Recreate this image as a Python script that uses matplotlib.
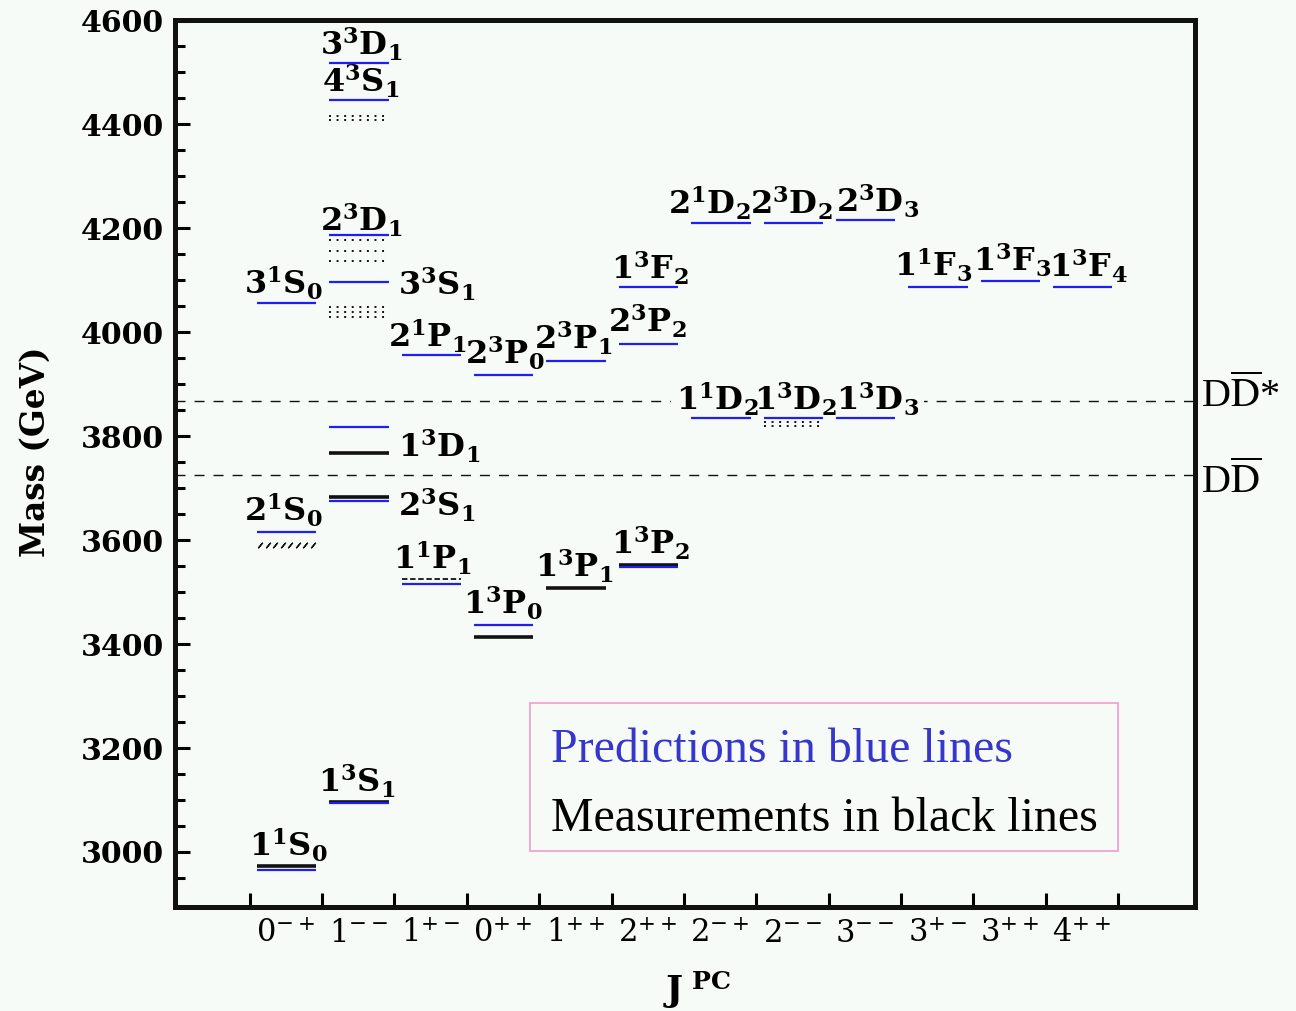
import numpy as np
import matplotlib
matplotlib.use("Agg")
import matplotlib.pyplot as plt
from matplotlib.patches import Rectangle
from matplotlib.ticker import FixedLocator

plt.rcParams["font.family"] = "DejaVu Serif"
plt.rcParams["mathtext.fontset"] = "dejavuserif"

BG = "#f7fbf8"
BLUE = "#1f1ff5"
BLACK = "#111111"

# J^PC columns
jpc_labels = [r"$0^{-+}$", r"$1^{--}$", r"$1^{+-}$", r"$0^{++}$", r"$1^{++}$", r"$2^{++}$",
              r"$2^{-+}$", r"$2^{--}$", r"$3^{--}$", r"$3^{+-}$", r"$3^{++}$", r"$4^{++}$"]

# Potential-model predictions (MeV); column = index into jpc_labels
pred_col = [0, 0, 0,
            1, 1, 1, 1, 1, 1, 1,
            2, 2,
            3, 3,
            4,
            5, 5, 5,
            6, 6,
            7, 7,
            8, 8,
            9, 10, 11]
pred_mass = [2966, 3616, 4057,
             3094, 3676, 3818, 4097, 4187, 4447, 4518,
             3516, 3956,
             3437, 3917,
             3945,
             3549, 3978, 4088,
             3835, 4210,
             3835, 4210,
             3836, 4216,
             4088, 4099, 4088]

# Measured states (MeV)
meas_col = [0, 1, 1, 1, 3, 4, 5]
meas_mass = [2973, 3097, 3683, 3768, 3413, 3508, 3552]

# Broad / less established states, drawn as dotted bands
tent_col = [1, 1, 1, 1, 1, 1, 1, 1, 7, 7]
tent_mass = [4048, 4039, 4029, 4177, 4157, 4138, 4417, 4409, 3828, 3820]

# Disputed eta_c(2S) candidate (hatched) and h_c (dashed)
hatch_col, hatch_mass = [0], [3591]
dash_col, dash_mass = [2], [3525]

# Open-charm thresholds (MeV)
threshold_mass = [3867, 3726]
threshold_names = [r"D$\overline{\mathrm{D}}$*", r"D$\overline{\mathrm{D}}$"]
threshold_label_y = [3857, 3690]

# Spectroscopic labels n^{2S+1}L_J
state_names = ["3^3D_1", "4^3S_1", "2^3D_1", "3^1S_0", "3^3S_1", "2^1P_1", "2^3P_0",
               "2^3P_1", "2^3P_2", "1^3F_2", "2^1D_2", "2^3D_2", "2^3D_3", "1^1F_3",
               "1^3F_3", "1^3F_4", "1^1D_2", "1^3D_2", "1^3D_3", "1^3D_1", "2^3S_1",
               "2^1S_0", "1^1P_1", "1^3P_0", "1^3P_1", "1^3P_2", "1^3S_1", "1^1S_0"]

# label anchor (column coordinate, baseline mass)
label_x = [2.543, 2.543, 2.543, 1.462, 3.590, 3.459, 4.530, 5.469, 6.499, 6.533,
           7.348, 8.481, 9.677, 10.44, 11.535, 12.585, 7.455, 8.537, 9.677, 3.618,
           3.590, 1.462, 3.528, 4.495, 5.483, 6.533, 2.484, 1.531]
label_y = [4531, 4460, 4193, 4072, 4070, 3970, 3937, 3966, 3998, 4101,
           4226, 4226, 4229, 4107, 4117, 4104, 3848, 3848, 3848, 3758,
           3645, 3636, 3542, 3456, 3527, 3572, 3113, 2991]
label_masks_line = [n in ("1^1D_2", "1^3D_2", "1^3D_3") for n in state_names]

LEFT_OFF, RIGHT_OFF = 0.10, 0.92


def span(col):
    return col + 1 + LEFT_OFF, col + 1 + RIGHT_OFF


def term_symbol(name):
    n_mult, rest = name.split("^")
    mult = rest[0]
    L, J = rest[1:].split("_")
    return r"$\mathbf{" + n_mult[0] + "^{" + mult + "}" + L + "_{" + J + "}}$"


fig = plt.figure(figsize=(12.96, 10.11), dpi=100, facecolor=BG)
ax = fig.add_axes([175 / 1296, 1 - 906.5 / 1011, 1020 / 1296, 886 / 1011])
ax.set_facecolor(BG)
ax.set_xlim(-0.03, 14.06)
ax.set_ylim(2895, 4600)

# thresholds
for m, name, ty in zip(threshold_mass, threshold_names, threshold_label_y):
    ax.axhline(m, color=BLACK, lw=1.0, ls=(0, (7.2, 6.5)), zorder=1)
    ax.text(14.145, ty, name, fontsize=29, family="Liberation Serif",
            math_fontfamily="stix", ha="left", va="baseline", clip_on=False)

# measured levels
for c, m in zip(meas_col, meas_mass):
    x0, x1 = span(c)
    ax.plot([x0, x1], [m, m], color=BLACK, lw=2.6, solid_capstyle="butt", zorder=3)

# predicted levels
for c, m in zip(pred_col, pred_mass):
    x0, x1 = span(c)
    ax.plot([x0, x1], [m, m], color=BLUE, lw=1.6, solid_capstyle="butt", zorder=4)

# dotted bands
for c, m in zip(tent_col, tent_mass):
    x0, x1 = span(c)
    ax.plot([x0, x1], [m, m], color=BLACK, lw=1.4, ls=(0, (1, 2.9)), zorder=3)

# hatched level
for c, m in zip(hatch_col, hatch_mass):
    x0, x1 = span(c)
    xs = np.linspace(x0 + 0.05, x1 - 0.05, 8)
    ax.plot(xs, np.full_like(xs, m), ls="none", marker=(2, 2, -40), ms=5,
            mew=0.9, color=BLACK, zorder=3)

# dashed level
for c, m in zip(dash_col, dash_mass):
    x0, x1 = span(c)
    ax.plot([x0, x1], [m, m], color=BLACK, lw=1.3, ls=(0, (3, 1.5)), zorder=3)

# state labels; those sitting on the threshold line get a background patch
for name, x, y, masks in zip(state_names, label_x, label_y, label_masks_line):
    txt = term_symbol(name)
    if masks:
        ax.text(x, y, txt, fontsize=23, ha="center", va="baseline", color=BG,
                zorder=1.5, bbox=dict(boxstyle="square,pad=0.15", fc=BG, ec="none"))
    ax.text(x, y, txt, fontsize=23, ha="center", va="baseline", zorder=2)

# axes styling
for s in ax.spines.values():
    s.set_linewidth(3.6)
    s.set_color(BLACK)

ax.set_xticks(np.arange(1, 14))
ax.set_xticklabels([])
ax.set_xticks(np.arange(len(jpc_labels)) + 1.5, minor=True)
ax.set_xticklabels(jpc_labels, minor=True, fontsize=22)
ax.tick_params(axis="x", which="major", direction="in", length=10, width=2.2,
               top=False)
ax.tick_params(axis="x", which="minor", length=0, pad=8)

ax.yaxis.set_major_locator(FixedLocator(np.arange(3000, 4601, 200)))
ax.yaxis.set_minor_locator(FixedLocator([v for v in range(2950, 4600, 50) if v % 200 != 0]))
ax.tick_params(axis="y", which="major", direction="in", length=10.5, width=2.2,
               labelsize=21.5, pad=8, right=False)
ax.tick_params(axis="y", which="minor", direction="in", length=7.5, width=2.2,
               right=False)
for lab in ax.get_yticklabels():
    lab.set_fontweight("bold")

fig.text(35 / 1296, 1 - 452 / 1011, "Mass (GeV)", rotation=90, ha="center",
         va="center", fontsize=23.5, fontweight="bold")
fig.text(697 / 1296, 1 - 990 / 1011, r"$\mathbf{J}^{\ \mathbf{PC}}$", ha="center",
         va="center", fontsize=26)

# caption box
ax.add_patch(Rectangle((0.348, 0.0626), 0.5765, 0.1671, transform=ax.transAxes,
                       fill=False, ec="#f4a3cc", lw=1.3, zorder=5))
ax.text(0.3686, 0.1631, "Predictions in blue lines", transform=ax.transAxes,
        fontsize=34.5, family="Liberation Serif", color="#3636cc", va="baseline")
ax.text(0.3686, 0.0852, "Measurements in black lines", transform=ax.transAxes,
        fontsize=34.5, family="Liberation Serif", color="black", va="baseline")

fig.savefig("out.png", dpi=100, facecolor=BG)
